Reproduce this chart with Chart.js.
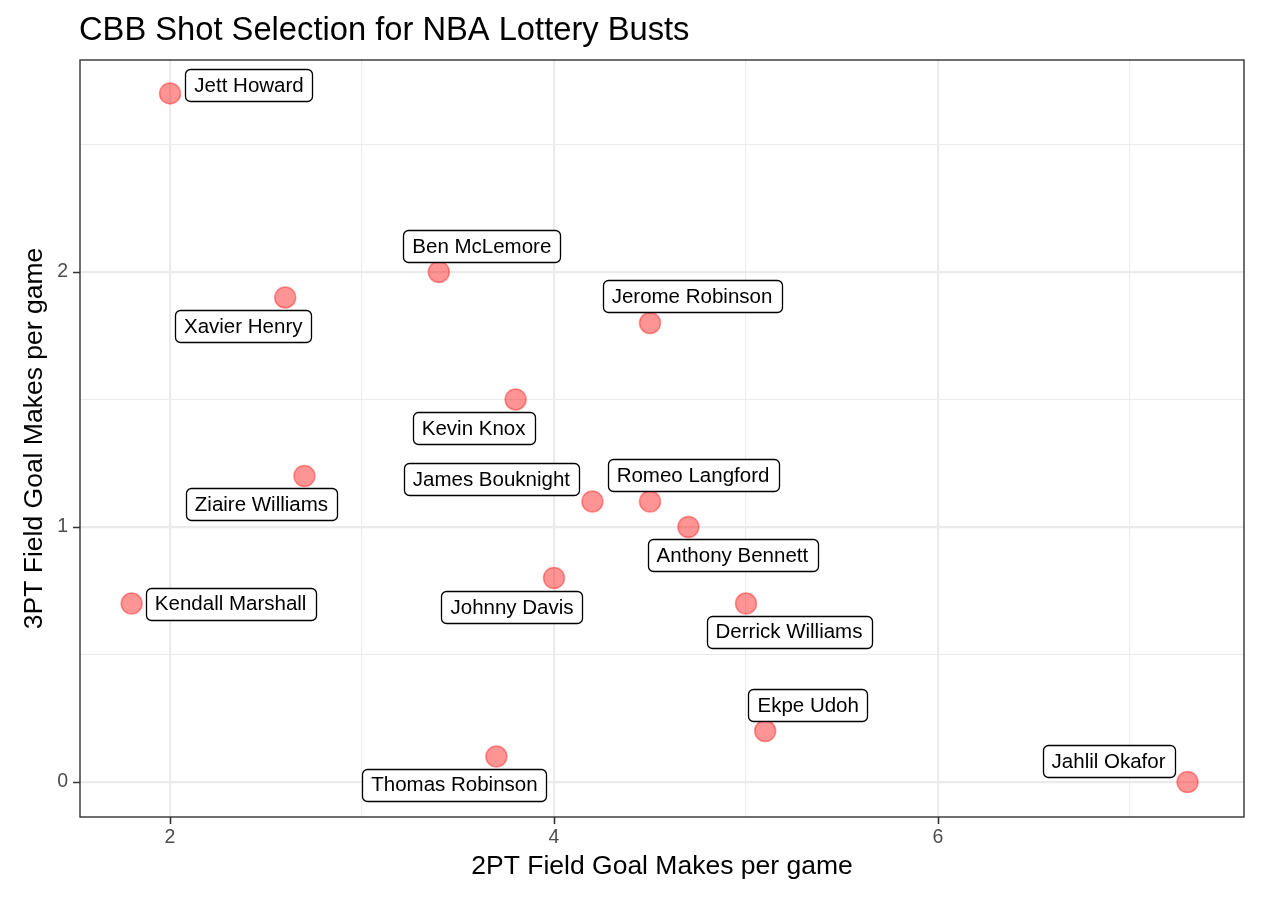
<!DOCTYPE html>
<html>
<head>
<meta charset="utf-8">
<script src="https://cdn.jsdelivr.net/npm/chart.js@4"></script>
<style>
  html, body { margin: 0; padding: 0; background: #fff; }
  #wrap { width: 1280px; height: 907px; }
</style>
</head>
<body>
<div id="wrap"><canvas id="shotChart" width="1280" height="907"></canvas></div>
<script>
// data
const players = ['Jett Howard', 'Ben McLemore', 'Xavier Henry', 'Jerome Robinson', 'Kevin Knox',
    'Ziaire Williams', 'James Bouknight', 'Romeo Langford', 'Anthony Bennett', 'Kendall Marshall',
    'Johnny Davis', 'Derrick Williams', 'Ekpe Udoh', 'Thomas Robinson', 'Jahlil Okafor'];
const twoPtMakes = [2.0, 3.4, 2.6, 4.5, 3.8, 2.7, 4.2, 4.5, 4.7, 1.8, 4.0, 5.0, 5.1, 3.7, 7.3];
const threePtMakes = [2.7, 2.0, 1.9, 1.8, 1.5, 1.2, 1.1, 1.1, 1.0, 0.7, 0.8, 0.7, 0.2, 0.1, 0.0];

const xMajor = [2, 4, 6];
const xMinor = [3, 5, 7];
const yMajor = [0, 1, 2];
const yMinor = [0.5, 1.5, 2.5];

// label box offsets from the point (px), like ggrepel placed them
const labelOffsets = [[79, -8], [43, -26], [-42, 29], [42, -27], [-42, 29],
    [-43, 28], [-101, -22], [43, -26], [44, 28], [99, 0],
    [-42, 29], [43, 28], [43, -26], [-42, 28], [-79, -21]];

const FONT = 'Arial, "Liberation Sans", Helvetica, sans-serif';

const isMajor = (list, v) => list.some(m => Math.abs(m - v) < 1e-6);

const labelBoxes = {
    id: 'labelBoxes',
    afterDatasetsDraw(chart) {
        const { ctx, scales: { x, y } } = chart;
        ctx.save();
        ctx.font = '20.5px ' + FONT;
        ctx.textAlign = 'center';
        ctx.textBaseline = 'middle';
        players.forEach((name, i) => {
            const px = x.getPixelForValue(twoPtMakes[i]);
            const py = y.getPixelForValue(threePtMakes[i]);
            const cx = px + labelOffsets[i][0];
            const cy = py + labelOffsets[i][1];
            const w = ctx.measureText(name).width + 18;
            const h = 32;
            ctx.beginPath();
            ctx.roundRect(Math.round(cx - w / 2) + 0.5, Math.round(cy - h / 2) + 0.5, Math.round(w), h, 5);
            ctx.fillStyle = '#ffffff';
            ctx.fill();
            ctx.lineWidth = 1.3;
            ctx.strokeStyle = '#000000';
            ctx.stroke();
            ctx.fillStyle = '#000000';
            ctx.fillText(name, cx, cy + 1);
        });
        ctx.restore();
    },
    afterDraw(chart) {
        const { ctx, chartArea: a, scales: { x, y } } = chart;
        ctx.save();
        // panel border
        ctx.strokeStyle = '#333333';
        ctx.lineWidth = 1.4;
        ctx.strokeRect(a.left, a.top, a.right - a.left, a.bottom - a.top);
        // tick marks on the major breaks
        ctx.lineWidth = 1.6;
        ctx.beginPath();
        xMajor.forEach(v => {
            const px = Math.round(x.getPixelForValue(v)) + 0.5;
            ctx.moveTo(px, a.bottom);
            ctx.lineTo(px, a.bottom + 7);
        });
        yMajor.forEach(v => {
            const py = Math.round(y.getPixelForValue(v)) + 0.5;
            ctx.moveTo(a.left, py);
            ctx.lineTo(a.left - 7, py);
        });
        ctx.stroke();
        // titles
        ctx.fillStyle = '#000000';
        ctx.font = '32.7px ' + FONT;
        ctx.textAlign = 'left';
        ctx.textBaseline = 'alphabetic';
        ctx.fillText('CBB Shot Selection for NBA Lottery Busts', 79, 40);
        ctx.font = '26.5px ' + FONT;
        ctx.textAlign = 'center';
        ctx.textBaseline = 'middle';
        ctx.fillText('2PT Field Goal Makes per game', (a.left + a.right) / 2, 867);
        ctx.translate(35, (a.top + a.bottom) / 2);
        ctx.rotate(-Math.PI / 2);
        ctx.fillText('3PT Field Goal Makes per game', 0, 0);
        ctx.restore();
    }
};

new Chart(document.getElementById('shotChart'), {
    type: 'scatter',
    data: {
        datasets: [{
            data: players.map((p, i) => ({ x: twoPtMakes[i], y: threePtMakes[i] })),
            backgroundColor: 'rgba(255, 0, 0, 0.42)',
            borderColor: 'rgba(255, 0, 0, 0.4)',
            borderWidth: 1.5,
            pointRadius: 10.5,
            pointHoverRadius: 10.5
        }]
    },
    options: {
        responsive: false,
        devicePixelRatio: 1,
        animation: false,
        layout: { padding: { top: 60, right: 36, left: 0, bottom: 0 } },
        plugins: { legend: { display: false }, tooltip: { enabled: false } },
        scales: {
            x: {
                type: 'linear',
                min: 1.531,
                max: 7.594,
                afterBuildTicks: s => { s.ticks = xMajor.concat(xMinor).sort().map(v => ({ value: v })); },
                afterFit: s => { s.height = 90; },
                border: { display: false },
                grid: {
                    color: '#EBEBEB',
                    lineWidth: c => isMajor(xMajor, c.tick.value) ? 2.2 : 1.1,
                    drawTicks: false
                },
                ticks: {
                    autoSkip: false,
                    maxRotation: 0,
                    padding: 9,
                    color: '#4D4D4D',
                    font: { family: FONT, size: 19.5 },
                    callback: v => isMajor(xMajor, v) ? String(v) : ''
                }
            },
            y: {
                type: 'linear',
                min: -0.137,
                max: 2.831,
                afterBuildTicks: s => { s.ticks = yMajor.concat(yMinor).sort().map(v => ({ value: v })); },
                afterFit: s => { s.width = 80; },
                border: { display: false },
                grid: {
                    color: '#EBEBEB',
                    lineWidth: c => isMajor(yMajor, c.tick.value) ? 2.2 : 1.1,
                    drawTicks: false
                },
                ticks: {
                    autoSkip: false,
                    padding: 12,
                    color: '#4D4D4D',
                    font: { family: FONT, size: 19.5 },
                    callback: v => isMajor(yMajor, v) ? String(v) : ''
                }
            }
        }
    },
    plugins: [labelBoxes]
});
</script>
</body>
</html>
